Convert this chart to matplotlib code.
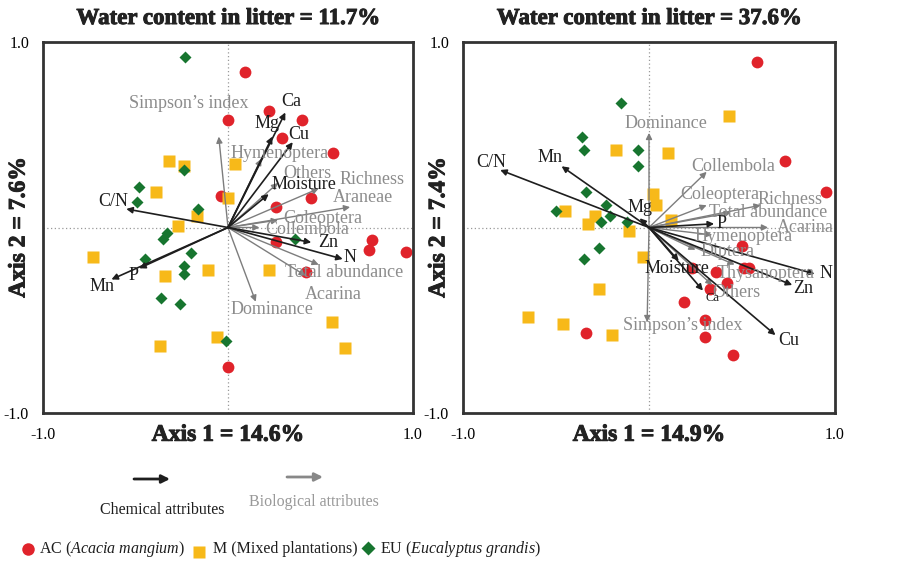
import numpy as np
import matplotlib
matplotlib.use("Agg")
import matplotlib.pyplot as plt
import matplotlib.patheffects as pe

plt.rcParams['font.family'] = ['Liberation Serif', 'DejaVu Serif']
plt.rcParams['mathtext.fontset'] = 'custom'
plt.rcParams['mathtext.rm'] = 'Liberation Serif'
plt.rcParams['mathtext.it'] = 'Liberation Serif:italic'

RED = '#e0232b'
YELLOW = '#f7b919'
GREEN = '#17752f'
GREY = '#8c8c8c'
BLACK = '#1e1e1e'

# ---- dry season (water content 11.7%) ----
dry_ac_x = [0.09, 0.22, 0.00, 0.40, 0.29, 0.57, -0.04, 0.45, 0.26, 0.26, 0.78, 0.76, 0.96, 0.42, 0.00]
dry_ac_y = [0.84, 0.63, 0.58, 0.58, 0.48, 0.40, 0.17, 0.16, 0.11, -0.08, -0.07, -0.12, -0.13, -0.24, -0.75]
dry_m_x = [-0.32, -0.24, 0.04, -0.39, 0.00, -0.17, -0.27, -0.73, -0.34, -0.11, 0.22, 0.56, 0.63, -0.06, -0.37]
dry_m_y = [0.36, 0.33, 0.34, 0.19, 0.16, 0.06, 0.01, -0.16, -0.26, -0.23, -0.23, -0.51, -0.65, -0.59, -0.64]
dry_eu_x = [-0.23, -0.24, -0.48, -0.49, -0.16, -0.35, -0.33, -0.45, -0.20, -0.24, -0.24, -0.36, -0.26, -0.01, 0.36]
dry_eu_y = [0.92, 0.31, 0.22, 0.14, 0.10, -0.06, -0.03, -0.17, -0.14, -0.21, -0.25, -0.38, -0.41, -0.61, -0.06]

dry_chem_names = ['Ca', 'Mg', 'Cu', 'Moisture', 'C/N', 'Mn', 'P', 'Zn', 'N']
dry_chem_x = [0.31, 0.24, 0.35, 0.22, -0.55, -0.63, -0.48, 0.45, 0.62]
dry_chem_y = [0.62, 0.49, 0.46, 0.18, 0.10, -0.28, -0.22, -0.08, -0.17]
dry_chem_lx = [0.34, 0.21, 0.38, 0.41, -0.62, -0.68, -0.51, 0.54, 0.66]
dry_chem_ly = [0.68, 0.56, 0.50, 0.23, 0.14, -0.32, -0.26, -0.08, -0.16]

dry_bio_names = ["Simpson’s index", 'Hymenoptera', 'Others', 'Richness', 'Araneae',
                 'Coleoptera', 'Collembola', 'Total abundance', 'Acarina', 'Dominance']
dry_bio_x = [-0.05, 0.18, 0.27, 0.49, 0.66, 0.27, 0.17, 0.49, 0.42, 0.15]
dry_bio_y = [0.49, 0.37, 0.24, 0.21, 0.11, 0.04, 0.00, -0.20, -0.26, -0.40]
dry_bio_lx = [-0.21, 0.28, 0.43, 0.78, 0.73, 0.51, 0.43, 0.63, 0.57, 0.24]
dry_bio_ly = [0.67, 0.40, 0.29, 0.26, 0.16, 0.05, -0.01, -0.24, -0.36, -0.44]

# ---- wet season (water content 37.6%) ----
wet_ac_x = [0.58, 0.73, 0.95, 0.50, 0.51, 0.54, 0.23, 0.36, 0.42, 0.33, 0.19, 0.30, 0.30, 0.45, -0.34]
wet_ac_y = [0.89, 0.36, 0.19, -0.10, -0.22, -0.22, -0.22, -0.24, -0.30, -0.33, -0.40, -0.50, -0.59, -0.69, -0.57]
wet_m_x = [0.43, -0.18, 0.10, 0.02, 0.04, 0.12, -0.45, -0.29, -0.33, -0.11, -0.03, -0.27, -0.65, -0.46, -0.20]
wet_m_y = [0.60, 0.42, 0.40, 0.18, 0.12, 0.04, 0.09, 0.06, 0.02, -0.02, -0.16, -0.33, -0.48, -0.52, -0.58]
wet_eu_x = [-0.15, -0.36, -0.35, -0.06, -0.06, -0.34, -0.23, -0.50, -0.21, -0.26, -0.12, -0.27, -0.35]
wet_eu_y = [0.67, 0.49, 0.42, 0.42, 0.33, 0.19, 0.12, 0.09, 0.06, 0.03, 0.03, -0.11, -0.17]

wet_chem_names = ['C/N', 'Mn', 'Mg', 'P', 'N', 'Zn', 'Cu', 'Moisture', 'Ca']
wet_chem_x = [-0.80, -0.47, -0.05, 0.35, 0.89, 0.77, 0.68, 0.16, 0.29]
wet_chem_y = [0.31, 0.33, 0.05, 0.02, -0.25, -0.31, -0.58, -0.18, -0.34]
wet_chem_lx = [-0.85, -0.53, -0.05, 0.39, 0.95, 0.83, 0.75, 0.15, 0.34]
wet_chem_ly = [0.35, 0.38, 0.11, 0.02, -0.25, -0.33, -0.61, -0.22, -0.38]

wet_bio_names = ['Dominance', 'Collembola', 'Coleoptera', 'Richness', 'Total abundance', 'Acarina',
                 'Hymenoptera', 'Diptera', 'Thysanoptera', 'Others', "Simpson’s index"]
wet_bio_x = [0.00, 0.31, 0.31, 0.60, 0.44, 0.64, 0.34, 0.25, 0.46, 0.34, -0.01]
wet_bio_y = [0.51, 0.30, 0.12, 0.12, 0.08, 0.00, -0.04, -0.12, -0.20, -0.31, -0.51]
wet_bio_lx = [0.09, 0.45, 0.38, 0.76, 0.64, 0.84, 0.51, 0.42, 0.63, 0.47, 0.18]
wet_bio_ly = [0.56, 0.33, 0.18, 0.15, 0.08, 0.00, -0.05, -0.13, -0.25, -0.35, -0.53]

# heavier strokes for the bold headings
HEAVY = [pe.withStroke(linewidth=0.7, foreground='#222222')]


def draw_arrows(ax, names, xs, ys, lxs, lys, color, text_color, lw, small=()):
    for name, x, y, lx, ly in zip(names, xs, ys, lxs, lys):
        ax.annotate('', xy=(x, y), xytext=(0, 0),
                    arrowprops=dict(arrowstyle='-|>', color=color, lw=lw,
                                    mutation_scale=9, shrinkA=0, shrinkB=0),
                    zorder=3)
        fs = 9 if name in small else 13
        ax.text(lx, ly, name, color=text_color, fontsize=fs, ha='center', va='center', zorder=4)


def draw_panel(ax, ac, m, eu, chem, bio, title, xlab, ylab, small=()):
    ax.set_xlim(-1, 1)
    ax.set_ylim(-1, 1)
    ax.axhline(0, color='#999999', lw=0.9, ls=(0, (1, 2)), zorder=1)
    ax.axvline(0, color='#999999', lw=0.9, ls=(0, (1, 2)), zorder=1)

    ax.plot(*ac, 'o', color=RED, ms=8.5, mec='none', zorder=2)
    ax.plot(*m, 's', color=YELLOW, ms=8.5, mec='none', zorder=2)
    ax.plot(*eu, 'D', color=GREEN, ms=6, mec='none', zorder=2)

    draw_arrows(ax, *bio, '#7d7d7d', GREY, 1.0)
    draw_arrows(ax, *chem, BLACK, BLACK, 1.2, small=small)

    ax.set_xticks([-1, 1])
    ax.set_yticks([-1, 1])
    ax.set_xticklabels(['-1.0', '1.0'])
    ax.set_yticklabels(['-1.0', '1.0'])
    ax.tick_params(length=0, labelsize=11.5, pad=10)
    for sp in ax.spines.values():
        sp.set_color('#333333')
        sp.set_linewidth(2)

    ax.text(0.5, 1.035, title, transform=ax.transAxes, ha='center', va='bottom',
            fontsize=16.5, fontweight='bold', color='#222222', path_effects=HEAVY)
    ax.text(0.5, -0.06, xlab, transform=ax.transAxes, ha='center', va='center',
            fontsize=17, fontweight='bold', color='#222222', path_effects=HEAVY)
    ax.text(-0.065, 0.5, ylab, transform=ax.transAxes, ha='center', va='center',
            rotation=90, fontsize=17, fontweight='bold', color='#222222', path_effects=HEAVY)


fig = plt.figure(figsize=(8.97, 5.64), dpi=100)
W, H = 897, 564

ax1 = fig.add_axes([43 / W, (H - 413) / H, 370 / W, 371 / H])
ax2 = fig.add_axes([463 / W, (H - 413) / H, 372 / W, 371 / H])

draw_panel(ax1, (dry_ac_x, dry_ac_y), (dry_m_x, dry_m_y), (dry_eu_x, dry_eu_y),
           (dry_chem_names, dry_chem_x, dry_chem_y, dry_chem_lx, dry_chem_ly),
           (dry_bio_names, dry_bio_x, dry_bio_y, dry_bio_lx, dry_bio_ly),
           'Water content in litter = 11.7%', 'Axis 1 = 14.6%', 'Axis 2 = 7.6%')
draw_panel(ax2, (wet_ac_x, wet_ac_y), (wet_m_x, wet_m_y), (wet_eu_x, wet_eu_y),
           (wet_chem_names, wet_chem_x, wet_chem_y, wet_chem_lx, wet_chem_ly),
           (wet_bio_names, wet_bio_x, wet_bio_y, wet_bio_lx, wet_bio_ly),
           'Water content in litter = 37.6%', 'Axis 1 = 14.9%', 'Axis 2 = 7.4%',
           small=('Ca',))

# key below the panels, laid out in pixel units
key = fig.add_axes([0, 0, 1, 1], facecolor='none')
key.set_xlim(0, W)
key.set_ylim(H, 0)
key.axis('off')

key.annotate('', xy=(170, 479), xytext=(134, 479),
             arrowprops=dict(arrowstyle='-|>', color=BLACK, lw=2, mutation_scale=12,
                             shrinkA=0, shrinkB=0))
key.annotate('', xy=(323, 477), xytext=(287, 477),
             arrowprops=dict(arrowstyle='-|>', color='#888888', lw=2, mutation_scale=12,
                             shrinkA=0, shrinkB=0))
key.text(162, 510, 'Chemical attributes', fontsize=11.5, ha='center', va='center', color=BLACK)
key.text(314, 502, 'Biological attributes', fontsize=11.5, ha='center', va='center', color='#999999')

key.plot(28, 549, 'o', color=RED, ms=9, mec='none')
key.text(39, 549, r'AC ($\mathit{Acacia\ mangium}$)', fontsize=11.5, va='center', color=BLACK)
key.plot(199, 552, 's', color=YELLOW, ms=8, mec='none')
key.text(213, 549, 'M (Mixed plantations)', fontsize=11.5, va='center', color=BLACK)
key.plot(368, 548, 'D', color=GREEN, ms=7, mec='none')
key.text(380, 549, r'EU ($\mathit{Eucalyptus\ grandis}$)', fontsize=11.5, va='center', color=BLACK)

fig.savefig('out.png', dpi=100)
